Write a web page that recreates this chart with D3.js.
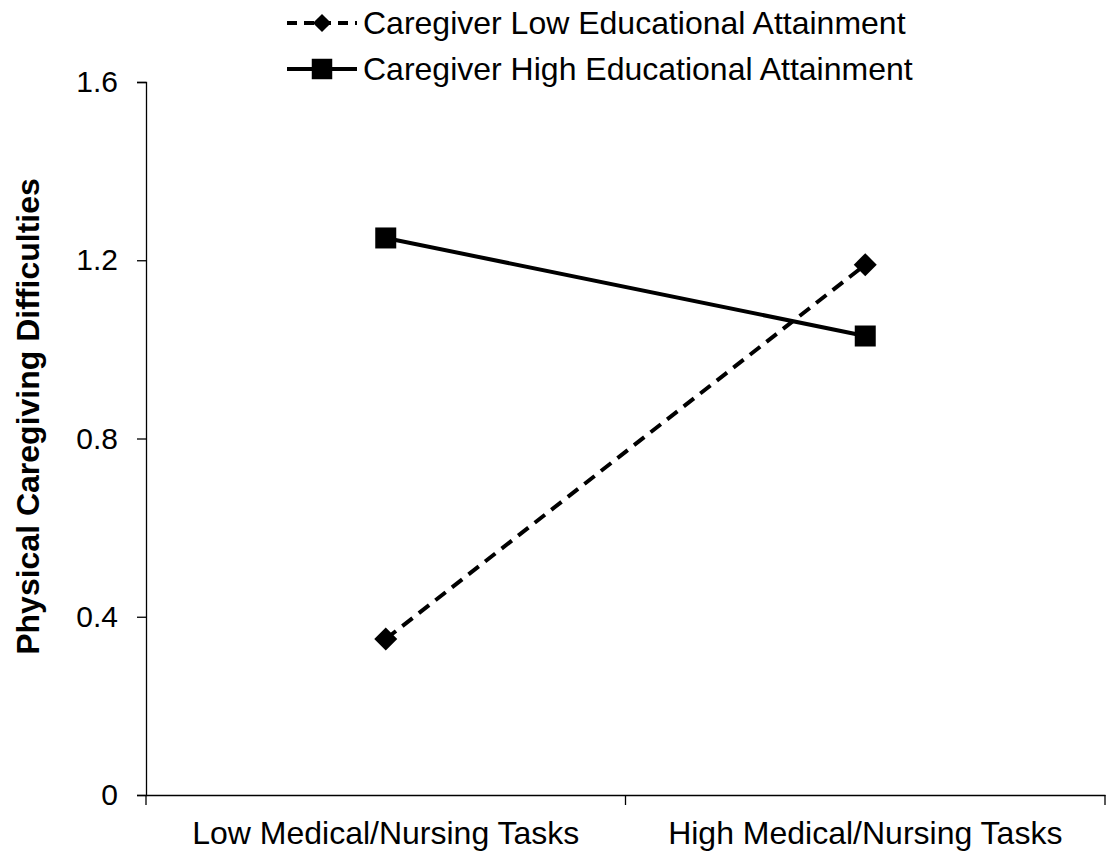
<!DOCTYPE html>
<html>
<head>
<meta charset="utf-8">
<script src="https://cdn.jsdelivr.net/npm/d3@7"></script>
<style>
  body { margin: 0; background: #fff; }
  text { font-family: "Liberation Sans", Arial, sans-serif; fill: #000; }
</style>
</head>
<body>
<div id="chart"></div>
<script>
const categories = ['Low Medical/Nursing Tasks', 'High Medical/Nursing Tasks'];
const lowEducation = [0.35, 1.19];
const highEducation = [1.25, 1.03];
const yTicks = [0, 0.4, 0.8, 1.2, 1.6];
const seriesNames = ['Caregiver Low Educational Attainment', 'Caregiver High Educational Attainment'];

const width = 1108, height = 856;
const margin = { top: 82, right: 3, bottom: 61, left: 146 };

const svg = d3.select('#chart')
  .append('svg')
  .attr('width', width)
  .attr('height', height);

const x = d3.scaleBand()
  .domain(categories)
  .range([margin.left, width - margin.right]);

const y = d3.scaleLinear()
  .domain([0, 1.6])
  .range([height - margin.bottom, margin.top]);

// y axis
const yAxis = svg.append('g')
  .attr('transform', `translate(${margin.left},0)`)
  .call(d3.axisLeft(y).tickValues(yTicks).tickSize(9).tickPadding(19)
    .tickFormat(d => d === 0 ? '0' : d3.format('.1f')(d)));
yAxis.select('.domain').attr('stroke', '#000').attr('stroke-width', 1.3);
yAxis.selectAll('.tick line').attr('stroke', '#000').attr('stroke-width', 1.3);
yAxis.selectAll('.tick text').style('font-size', '30px').attr('fill', '#000');

// x axis
const xAxis = svg.append('g')
  .attr('transform', `translate(0,${height - margin.bottom})`)
  .call(d3.axisBottom(x).tickSize(0).tickPadding(26));
xAxis.select('.domain').attr('stroke', '#000').attr('stroke-width', 1.3);
xAxis.selectAll('.tick text').style('font-size', '32px').attr('fill', '#000');

// tick marks between categories
const bounds = [x.range()[0], x.range()[0] + x.bandwidth(), x.range()[1]];
svg.append('g').selectAll('line')
  .data(bounds)
  .join('line')
  .attr('x1', d => d).attr('x2', d => d)
  .attr('y1', height - margin.bottom)
  .attr('y2', height - margin.bottom + 10)
  .attr('stroke', '#000')
  .attr('stroke-width', 1.3);

// y axis title
svg.append('text')
  .attr('transform', `translate(28,${(margin.top + height - margin.bottom) / 2 - 22}) rotate(-90)`)
  .attr('text-anchor', 'middle')
  .attr('dominant-baseline', 'central')
  .style('font-size', '32px')
  .style('font-weight', 'bold')
  .text('Physical Caregiving Difficulties');

const cx = d => x(d) + x.bandwidth() / 2;
const line = d3.line()
  .x((d, i) => cx(categories[i]))
  .y(d => y(d));

const square = d3.symbol().type(d3.symbolSquare).size(441);

// low education: dashed line + diamonds
svg.append('path')
  .datum(lowEducation)
  .attr('d', line)
  .attr('fill', 'none')
  .attr('stroke', '#000')
  .attr('stroke-width', 4)
  .attr('stroke-dasharray', '13,8');

svg.append('g').selectAll('path')
  .data(lowEducation)
  .join('path')
  .attr('d', d3.symbol().type(d3.symbolSquare).size(265))
  .attr('transform', (d, i) => `translate(${cx(categories[i])},${y(d)}) rotate(45)`)
  .attr('fill', '#000');

// high education: solid line + squares
svg.append('path')
  .datum(highEducation)
  .attr('d', line)
  .attr('fill', 'none')
  .attr('stroke', '#000')
  .attr('stroke-width', 4);

svg.append('g').selectAll('path')
  .data(highEducation)
  .join('path')
  .attr('d', square)
  .attr('transform', (d, i) => `translate(${cx(categories[i])},${y(d)})`)
  .attr('fill', '#000');

// legend
const legend = svg.append('g').attr('transform', 'translate(287,0)');
const legendRows = legend.selectAll('g')
  .data(seriesNames)
  .join('g')
  .attr('transform', (d, i) => `translate(0,${23 + i * 46})`);

legendRows.append('line')
  .attr('x1', 0).attr('x2', 70)
  .attr('stroke', '#000')
  .attr('stroke-width', 4)
  .attr('stroke-dasharray', (d, i) => i === 0 ? '10,7' : null);

legendRows.append('path')
  .attr('d', (d, i) => i === 0
    ? d3.symbol().type(d3.symbolSquare).size(165)()
    : d3.symbol().type(d3.symbolSquare).size(420)())
  .attr('transform', (d, i) => i === 0 ? 'translate(35,0) rotate(45)' : 'translate(35,0)')
  .attr('fill', '#000');

legendRows.append('text')
  .attr('x', 76)
  .attr('dominant-baseline', 'central')
  .style('font-size', '32px')
  .text(d => d);
</script>
</body>
</html>
